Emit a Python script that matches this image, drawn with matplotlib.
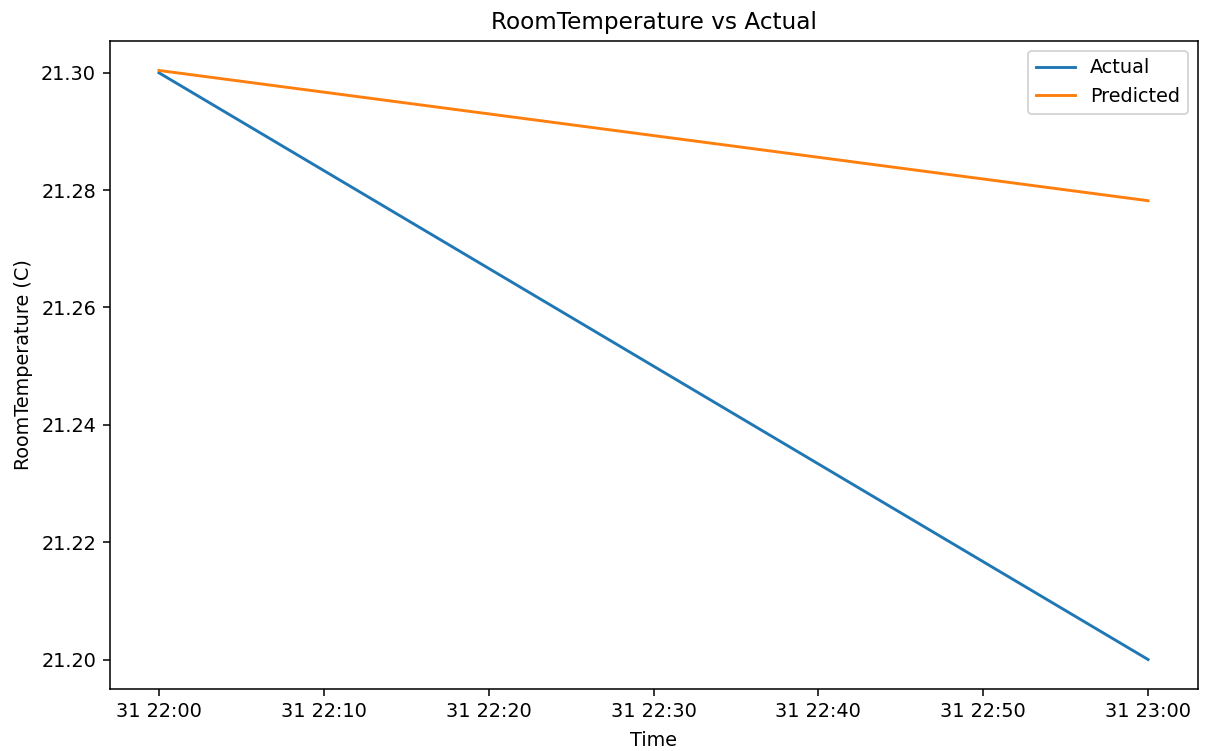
import matplotlib
matplotlib.use("Agg")
import matplotlib.pyplot as plt
import matplotlib.dates as mdates
import pandas as pd

# Two hourly points
times = pd.to_datetime(["2023-12-31 22:00", "2023-12-31 23:00"])
actual = [21.300, 21.200]
predicted = [21.3004, 21.2782]

DPI = 139
fig, ax = plt.subplots(figsize=(1205 / DPI, 751 / DPI), dpi=DPI)
fig.subplots_adjust(left=0.0909, right=0.9938, top=0.9454, bottom=0.0826)

ax.plot(times, actual, label="Actual")
ax.plot(times, predicted, label="Predicted")

ax.xaxis.set_major_locator(mdates.MinuteLocator(byminute=range(0, 60, 10)))
ax.xaxis.set_major_formatter(mdates.DateFormatter("%d %H:%M"))
ax.set_yticks([21.20, 21.22, 21.24, 21.26, 21.28, 21.30])
ax.yaxis.set_major_formatter(matplotlib.ticker.FormatStrFormatter("%.2f"))

ax.set_title("RoomTemperature vs Actual")
ax.set_xlabel("Time", labelpad=5)
ax.set_ylabel("RoomTemperature (C)")
ax.legend()

fig.savefig("out.png", dpi=DPI)
